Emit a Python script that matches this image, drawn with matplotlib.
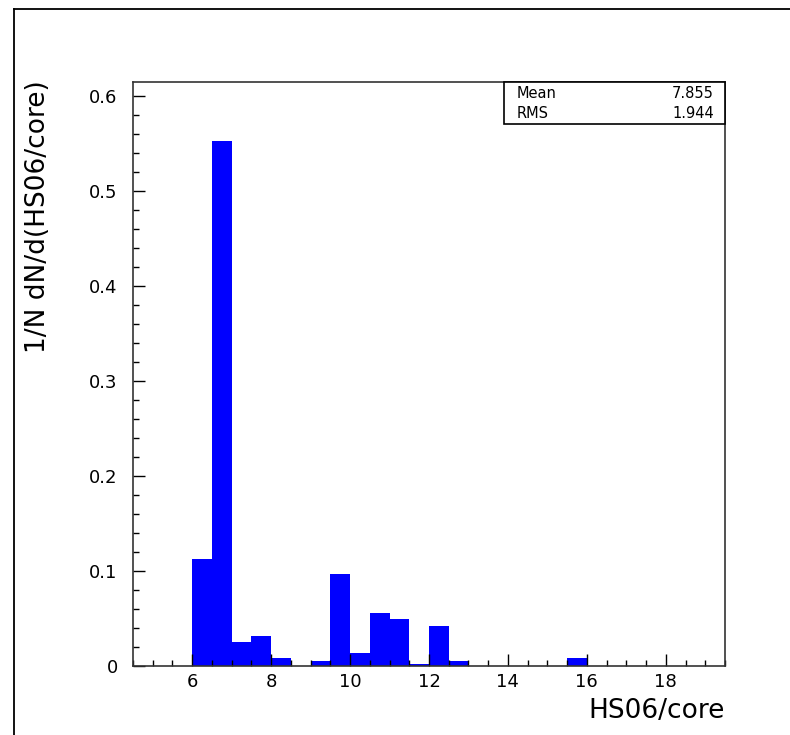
import matplotlib
matplotlib.use('Agg')
import matplotlib.pyplot as plt
from matplotlib.ticker import MultipleLocator, FormatStrFormatter
from matplotlib.lines import Line2D
from matplotlib.patches import Rectangle

# histogram bins (HS06/core), width 0.5
bin_edges = [4.5, 5.0, 5.5, 6.0, 6.5, 7.0, 7.5, 8.0, 8.5, 9.0, 9.5, 10.0, 10.5, 11.0,
             11.5, 12.0, 12.5, 13.0, 13.5, 14.0, 14.5, 15.0, 15.5, 16.0, 16.5, 17.0,
             17.5, 18.0, 18.5, 19.0, 19.5]
bin_values = [0, 0, 0, 0.113, 0.553, 0.025, 0.032, 0.008, 0, 0.005, 0.097, 0.014, 0.056,
              0.049, 0.002, 0.042, 0.005, 0, 0, 0, 0, 0, 0.008, 0, 0, 0, 0, 0, 0, 0]
stat_names = ['Mean', 'RMS']
stat_values = ['7.855', '1.944']

W, H = 790, 735
fig = plt.figure(figsize=(W / 100, H / 100), dpi=100)
plt.rcParams['font.family'] = ['DejaVu Sans']

ax = fig.add_axes([133 / W, 1 - 666 / H, 592 / W, 584 / H])
ax.stairs(bin_values, bin_edges, fill=True, color='#0000ff', linewidth=0)

ax.set_xlim(4.5, 19.5)
ax.set_ylim(0, 0.6147)

ax.xaxis.set_major_locator(MultipleLocator(2))
ax.xaxis.set_minor_locator(MultipleLocator(0.5))
ax.yaxis.set_major_locator(MultipleLocator(0.1))
ax.yaxis.set_minor_locator(MultipleLocator(0.02))
ax.yaxis.set_major_formatter(plt.FuncFormatter(lambda v, p: '0' if abs(v) < 1e-9 else '%g' % round(v, 1)))

ax.tick_params(which='both', direction='in', top=False, right=False, color='black')
ax.tick_params(which='major', length=8.5, width=1.0, labelsize=13)
ax.tick_params(which='minor', length=4.3, width=1.0)
ax.tick_params(axis='x', which='major', pad=5)
ax.tick_params(axis='y', which='major', pad=11)
for s in ax.spines.values():
    s.set_linewidth(1.2)
    s.set_color('#333333')

# axis titles, ROOT style (aligned to the far ends)
fig.text(725 / W, 1 - 718 / H, 'HS06/core', ha='right', va='baseline', fontsize=19)
fig.text(38 / W, 1 - 80 / H, '1/N dN/d(HS06/core)', rotation=90, ha='center', va='top', fontsize=19)

# statistics box
fig.add_artist(Rectangle((504 / W, 1 - 124 / H), (725 - 504) / W, (124 - 82) / H,
                         transform=fig.transFigure, facecolor='white', edgecolor='black', linewidth=1.2))
for i, (n, v) in enumerate(zip(stat_names, stat_values)):
    yy = 1 - (93.5 + i * 19.7) / H
    fig.text(517 / W, yy, n, ha='left', va='center', fontsize=10.5)
    fig.text(714 / W, yy, v, ha='right', va='center', fontsize=10.5)

# outer canvas frame
fig.add_artist(Line2D([14 / W, 14 / W], [0, 1 - 9 / H], transform=fig.transFigure, color='black', linewidth=1.3))
fig.add_artist(Line2D([14 / W, 1], [1 - 9 / H, 1 - 9 / H], transform=fig.transFigure, color='black', linewidth=1.3))

fig.savefig('out.png', dpi=100)
